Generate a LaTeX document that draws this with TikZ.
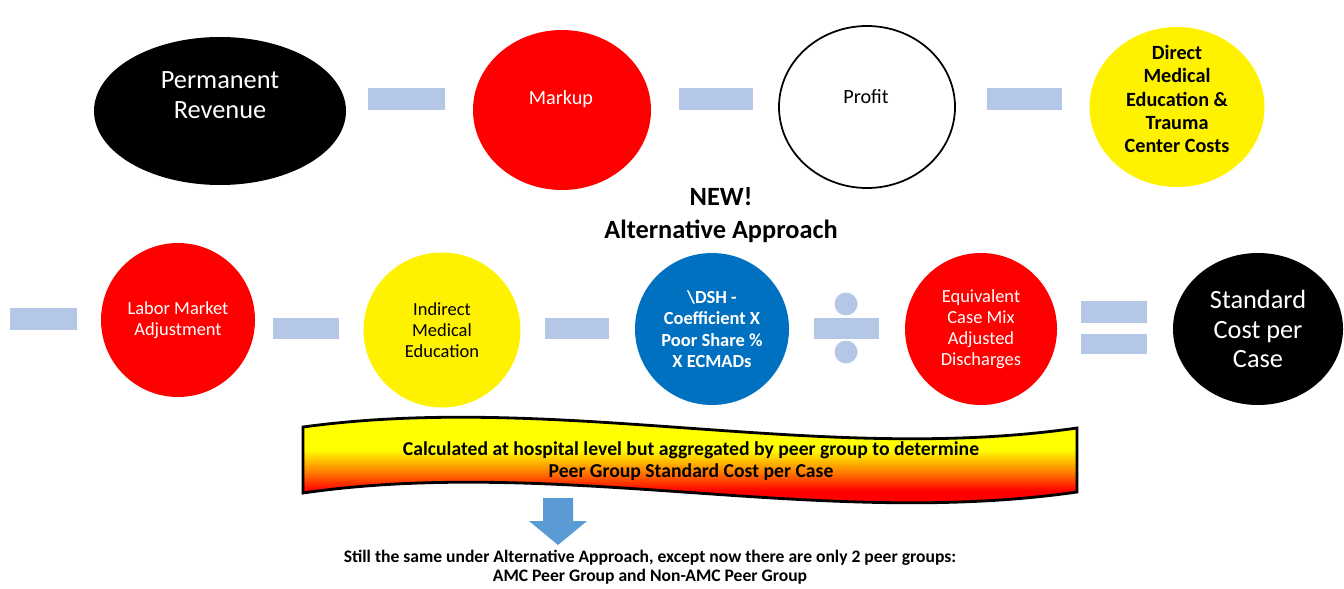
\documentclass[tikz,border=0pt]{standalone}
\usepackage{fontspec}
\setmainfont{Carlito}
\usepackage{tikz}
\usetikzlibrary{shapes.geometric,positioning,calc}
\usepackage{xcolor}
\definecolor{barblue}{HTML}{B4C7E7}
\definecolor{dshblue}{HTML}{0070C0}
\definecolor{arrowblue}{HTML}{5B9BD5}
\pgfdeclareverticalshading{bannershade}{100bp}{color(0bp)=(red); color(39bp)=(red);
    color(46bp)=(orange); color(54bp)=(yellow); color(100bp)=(yellow)}

\begin{document}
\begin{tikzpicture}[x=0.02cm,y=-0.02cm,
    wh/.style 2 args={minimum width=#1*0.02cm,minimum height=#2*0.02cm},
    blob/.style={ellipse,inner sep=0pt,align=center},
    bar/.style={rectangle,fill=barblue,inner sep=0pt},
    dot/.style={circle,fill=barblue,inner sep=0pt,minimum size=0.46cm},
    bigtxt/.style={align=center,font=\fontsize{15}{17}\selectfont},
    midtxt/.style={align=center,font=\fontsize{11.5}{13.2}\selectfont},
    smalltxt/.style={align=center,font=\fontsize{10.5}{12}\selectfont}]
    \useasboundingbox (0,0) rectangle (1344,588);

    % top row
    \node[blob,fill=black,wh={252}{148}] (perm) at (220,111) {};
    \node[bigtxt,text=white] (permtxt) at (220,95) {Permanent\\Revenue};
    \node[bar,wh={77}{22}] (bara) at (406,99) {};
    \node[blob,fill=red,wh={178}{160}] (markup) at (562,110) {};
    \node[midtxt,text=white] (markuptxt) at (561,99) {Markup};
    \node[bar,wh={74}{22}] (barb) at (716,99) {};
    \node[blob,draw=black,line width=1pt,wh={176}{162}] (profit) at (867,107) {};
    \node[midtxt] (profittxt) at (866,97) {Profit};
    \node[bar,wh={75}{22}] (barc) at (1024,99) {};
    \node[blob,fill=yellow,wh={175}{160}] (direct) at (1177,107) {};
    \node[midtxt,font=\fontsize{11.5}{13.2}\selectfont\bfseries] (directtxt) at (1177,99)
        {Direct\\Medical\\Education \&\\Trauma\\Center Costs};

    \node[font=\fontsize{15}{18.7}\selectfont\bfseries,align=center] (newtitle) at (721,215)
        {NEW!\\Alternative Approach};

    % second row
    \node[bar,wh={67}{22}] (bard) at (43,319) {};
    \node[blob,fill=red,text=white,wh={154}{154},smalltxt] (labor) at (178,320)
        {Labor Market\\Adjustment};
    \node[bar,wh={66}{21}] (bare) at (306,328) {};
    \node[blob,fill=yellow,wh={157}{155},smalltxt] (ime) at (442,330)
        {Indirect\\Medical\\Education};
    \node[bar,wh={64}{21}] (barf) at (577,328) {};
    \node[blob,fill=dshblue,text=white,wh={154}{152},font=\fontsize{10.5}{12.2}\selectfont\bfseries] (dsh) at (712,329)
        {\textbackslash DSH -\\Coefficient X\\Poor Share \%\\X ECMADs};
    \node[dot] (divtop) at (846,304) {};
    \node[bar,wh={65}{21}] (divbar) at (846,328) {};
    \node[dot] (divbot) at (846,352) {};
    \node[blob,fill=red,text=white,wh={152}{152},smalltxt] (ecmad) at (981,329)
        {Equivalent\\Case Mix\\Adjusted\\Discharges};
    \node[bar,wh={66}{22}] (eqtop) at (1114,312) {};
    \node[bar,wh={66}{20}] (eqbot) at (1114,344) {};
    \node[blob,fill=black,text=white,wh={170}{152},bigtxt] (stdcost) at (1258,329)
        {Standard\\Cost per\\Case};

    % banner
    \path[shading=bannershade] (303,427) .. controls (560,392) and (820,465) .. (1077,428)
        -- (1077,492) .. controls (820,529) and (560,456) .. (303,493) -- cycle;
    \draw[black,line width=1.6pt] (303,427) .. controls (560,392) and (820,465) .. (1077,428)
        -- (1077,492) .. controls (820,529) and (560,456) .. (303,493) -- cycle;
    \node[align=center,font=\fontsize{11.2}{12.5}\selectfont\bfseries] (peer) at (691,461)
        {Calculated at hospital level but aggregated by peer group to determine\\Peer Group Standard Cost per Case};

    % down arrow
    \fill[arrowblue] (543,498) -- (573,498) -- (573,521) -- (587,521) -- (558,545)
        -- (529,521) -- (543,521) -- cycle;

    \node[align=center,font=\fontsize{10}{11}\selectfont\bfseries] (amc) at (650,567)
        {Still the same under Alternative Approach, except now there are only 2 peer groups:\\AMC Peer Group and Non-AMC Peer Group};
\end{tikzpicture}
\end{document}
